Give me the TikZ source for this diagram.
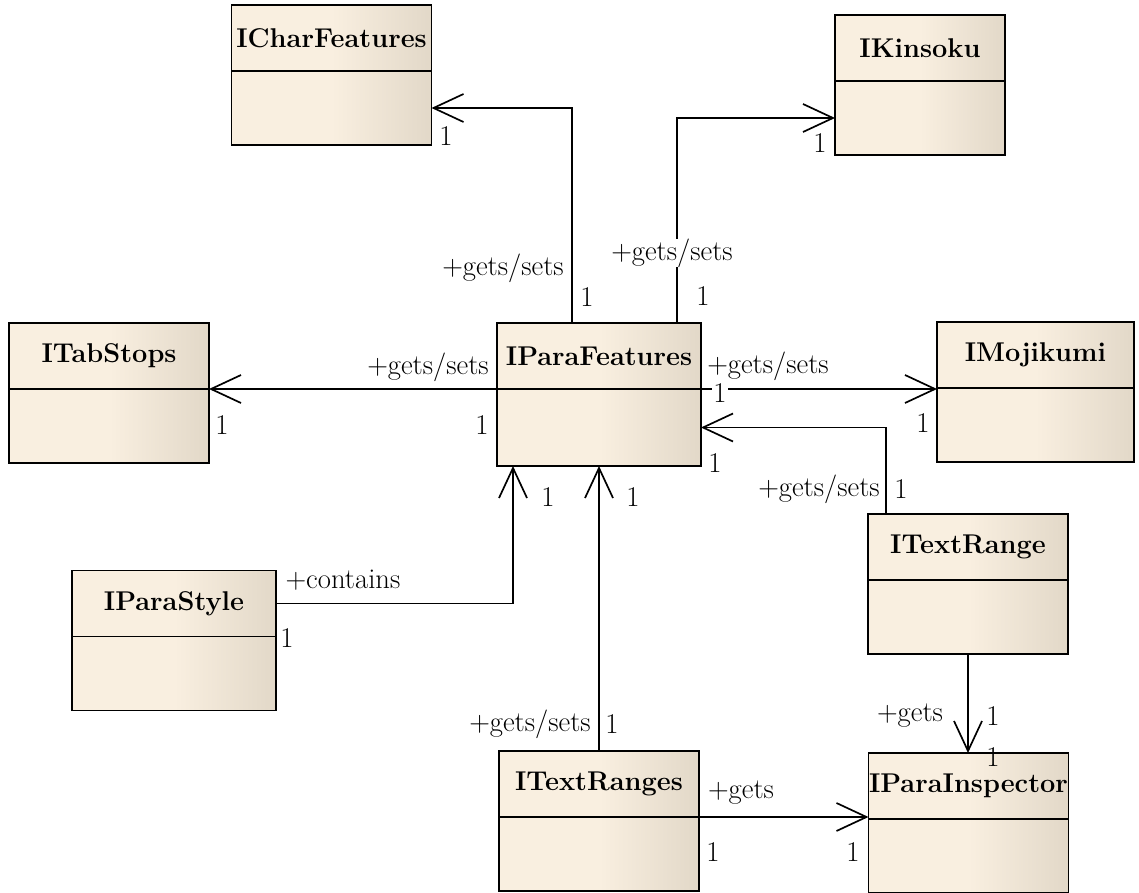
\documentclass[tikz,border=0pt]{standalone}
\usepackage{fontspec}
\usetikzlibrary{positioning,arrows.meta}

\definecolor{classlight}{HTML}{F9EFE0}
\definecolor{classdark}{HTML}{E2D8C8}

\tikzset{
  classpart/.style={draw, line width=1.2pt, outer sep=0pt, inner sep=0pt,
    left color=classlight, right color=classdark, middle color=classlight,
    minimum width=50mm},
  classhead/.style={classpart, minimum height=16.5mm,
    font=\fontsize{19.3}{23}\selectfont\bfseries},
  classbody/.style={classpart, minimum height=18.5mm},
  assoc/.style={line width=1.2pt, -{Straight Barb[length=7.5mm,width=7mm]}},
  onwire/.style={fill=white, inner xsep=1pt, inner ysep=0pt},
}

\begin{document}
\begin{tikzpicture}[x=0.25mm, y=-0.25mm, font=\fontsize{20.4}{24}\selectfont]
\useasboundingbox (0,0) rectangle (1139,893);

% classes
\node[classhead] (charf) at (331.5,38) {ICharFeatures};
\node[classbody, below=0pt of charf] (charfb) {};
\node[classhead, minimum width=42.5mm] (kins) at (920,48) {IKinsoku};
\node[classbody, minimum width=42.5mm, below=0pt of kins] (kinsb) {};
\node[classhead] (tabs) at (109,356) {ITabStops};
\node[classbody, below=0pt of tabs] (tabsb) {};
\node[classhead, minimum width=51mm] (paraf) at (599,356) {IParaFeatures};
\node[classbody, minimum width=51mm, minimum height=19.25mm, below=0pt of paraf] (parafb) {};
\node[classhead, minimum width=49.25mm] (moji) at (1035.5,355) {IMojikumi};
\node[classbody, minimum width=49.25mm, below=0pt of moji] (mojib) {};
\node[classhead, minimum width=51mm] (paras) at (174,603.5) {IParaStyle};
\node[classbody, minimum width=51mm, below=0pt of paras] (parasb) {};
\node[classhead] (trange) at (968,547) {ITextRange};
\node[classbody, below=0pt of trange] (trangeb) {};
\node[classhead] (pinsp) at (968.5,786) {IParaInspector};
\node[classbody, below=0pt of pinsp] (pinspb) {};
\node[classhead] (tranges) at (599,784) {ITextRanges};
\node[classbody, below=0pt of tranges] (trangesb) {};

% associations
\draw[assoc] ([xshift=18.75mm]paraf.north west) |- (charfb.east);
\draw[assoc] ([xshift=45mm]paraf.north west) |- (kinsb.west);
\draw[assoc] (paraf.south west) -- (paraf.south west -| tabs.east);
\draw[assoc] (paraf.south east) -- (paraf.south east -| moji.west);
\draw[assoc] ([xshift=4.5mm]trange.north west) |- (parafb.east);
\draw[assoc] (paras.east) -| ([xshift=4mm]parafb.south west);
\draw[assoc] (tranges.north) -- (tranges.north |- parafb.south);
\draw[assoc] (trangeb.south) -- (trangeb.south |- pinsp.north);
\draw[assoc] (tranges.south east) -- (tranges.south east -| pinsp.west);

% roles and multiplicities
\node (cfrole) at (503,268) {+gets/sets};
\node (cfsrc) at (587,297) {1};
\node (cfdst) at (446,136) {1};
\node[onwire] (kirole) at (672,253) {+gets/sets};
\node (kisrc) at (703,296) {1};
\node (kidst) at (820,143) {1};
\node (tsrole) at (428,367) {+gets/sets};
\node (tssrc) at (482,425) {1};
\node (tsdst) at (222,425) {1};
\node (mjrole) at (768,366) {+gets/sets};
\node[onwire] (mjsrc) at (720,393) {1};
\node (mjdst) at (923,423) {1};
\node (trdst) at (715,463) {1};
\node (trrole) at (819,489) {+gets/sets};
\node (trsrc) at (901,489) {1};
\node (psrole) at (343,580) {+contains};
\node (pssrc) at (287,638) {1};
\node (psdst) at (548,497) {1};
\node (rsdst) at (633,497) {1};
\node (rsrole) at (530,724) {+gets/sets};
\node (rssrc) at (612,724) {1};
\node (tirole) at (910,716) {+gets};
\node (tisrc) at (993,716) {1};
\node (tidst) at (993,757) {1};
\node (rirole) at (741,793) {+gets};
\node (risrc) at (713,852) {1};
\node (ridst) at (853,852) {1};
\end{tikzpicture}
\end{document}
